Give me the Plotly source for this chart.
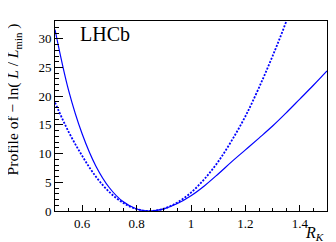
import plotly.graph_objects as go

# R_K scan points
rk = [0.50, 0.55, 0.60, 0.65, 0.70, 0.75, 0.80, 0.85, 0.90, 0.95, 1.00, 1.05,
      1.10, 1.15, 1.20, 1.25, 1.30, 1.35, 1.40, 1.45, 1.50]
# solid curve: profile of -ln(L/Lmin)
nll_solid = [31.6, 21.0, 13.4, 7.85, 4.05, 1.64, 0.35, 0.0, 0.38, 1.30, 2.66, 4.41,
             6.45, 8.6, 10.65, 12.7, 14.8, 17.1, 19.5, 21.9, 24.4]
# dotted curve
rk_dot = [0.50, 0.55, 0.60, 0.65, 0.70, 0.75, 0.80, 0.85, 0.90, 0.95, 1.00, 1.05,
          1.10, 1.15, 1.20, 1.25, 1.30, 1.35, 1.40]
nll_dot = [18.9, 13.8, 9.6, 6.0, 3.3, 1.43, 0.33, 0.0, 0.41, 1.49, 3.2, 5.6,
           8.6, 12.3, 16.5, 21.5, 27.0, 33.0, 39.9]

xtick_vals = [0.6, 0.8, 1.0, 1.2, 1.4]
xtick_text = ["0.6", "0.8", "1", "1.2", "1.4"]
ytick_vals = [0, 5, 10, 15, 20, 25, 30]
ytick_text = ["0", "5", "10", "15", "20", "25", "30"]

FONT = "Liberation Serif"
BLUE = "#0000ff"

fig = go.Figure()
fig.add_trace(go.Scatter(x=rk_dot, y=nll_dot, mode="lines",
                         line=dict(color=BLUE, width=1.8, dash="2px,1.5px", shape="spline"),
                         showlegend=False, hoverinfo="skip"))
fig.add_trace(go.Scatter(x=rk, y=nll_solid, mode="lines",
                         line=dict(color=BLUE, width=1.2, shape="spline"),
                         showlegend=False, hoverinfo="skip"))

fig.update_layout(
    width=336, height=242,
    margin=dict(l=47, r=17, t=13, b=39),
    paper_bgcolor="white", plot_bgcolor="white",
    font=dict(family=FONT, size=13, color="black"),
    xaxis=dict(range=[0.5, 1.5], tickvals=xtick_vals, ticktext=xtick_text,
               ticks="inside", ticklen=6, tickwidth=1, tickcolor="black",
               tickfont=dict(family=FONT, size=13, color="black"),
               minor=dict(dtick=0.05, tick0=0.5, ticks="inside", ticklen=3,
                          tickwidth=1, tickcolor="black"),
               showline=True, linecolor="black", linewidth=1, mirror=True,
               showgrid=False, zeroline=False),
    yaxis=dict(range=[0, 33.1], tickvals=ytick_vals, ticktext=ytick_text,
               ticks="inside", ticklen=8, tickwidth=1, tickcolor="black",
               tickfont=dict(family=FONT, size=13, color="black"),
               minor=dict(dtick=1, tick0=0, ticks="inside", ticklen=4,
                          tickwidth=1, tickcolor="black"),
               showline=True, linecolor="black", linewidth=1, mirror=True,
               showgrid=False, zeroline=False),
    annotations=[
        dict(text="Profile of \u2212 ln( <i>L</i> / <i>L</i><sub>min</sub> )",
             xref="paper", yref="paper", x=-0.153, y=1.0,
             xanchor="center", yanchor="top", textangle=-90, showarrow=False,
             font=dict(family=FONT, size=15.5, color="black")),
        dict(text="<i>R</i><sub><i>K</i></sub>",
             xref="paper", yref="paper", x=0.998, y=-0.06,
             xanchor="right", yanchor="top", showarrow=False,
             font=dict(family=FONT, size=16, color="black")),
        dict(text="LHCb", xref="paper", yref="paper", x=0.085, y=1.0,
             xanchor="left", yanchor="top", showarrow=False,
             font=dict(family=FONT, size=20, color="black")),
    ],
)

fig.write_html("out.html")
